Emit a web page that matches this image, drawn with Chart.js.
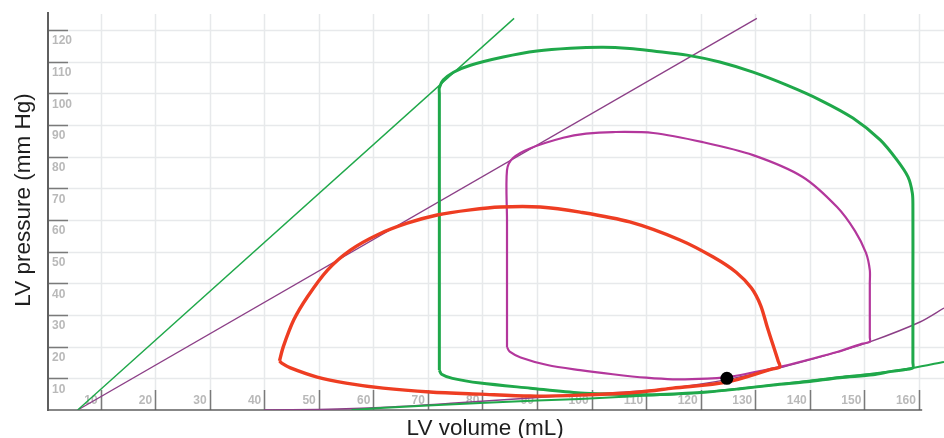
<!DOCTYPE html>
<html>
<head>
<meta charset="utf-8">
<script src="https://cdn.jsdelivr.net/npm/chart.js@4.4.1/dist/chart.umd.min.js"></script>
<style>
  html, body { margin: 0; padding: 0; background: #ffffff; overflow: hidden; }
  #wrap { width: 944px; height: 438px; }
</style>
</head>
<body>
<div id="wrap"><canvas id="c" width="944" height="438"></canvas></div>
<script>
// ---- Tick labels ----
const xTicks = [10, 20, 30, 40, 50, 60, 70, 80, 90, 100, 110, 120, 130, 140, 150, 160];
const yTicks = [10, 20, 30, 40, 50, 60, 70, 80, 90, 100, 110, 120];
const xTitle = 'LV volume (mL)';
const yTitle = 'LV pressure (mm Hg)';

// ---- Series (volume in mL, pressure in mm Hg) ----
// Large green loop
const greenLoopVol = [72.1, 72.1, 72.1, 72.1, 72.1, 72.1, 72.8, 74.7, 77.8, 83.8, 90.0, 96.1, 102.1, 107.0, 111.3, 117.5, 123.5, 129.6, 135.8, 141.9, 147.9, 152.9, 156.0, 158.0, 158.8, 158.9, 158.9, 158.9, 158.9, 157.5, 155.0, 151.6, 145.5, 139.5, 133.3, 127.2, 121.2, 112.6, 108.9, 103.9, 97.9, 88.8, 79.6, 74.5, 72.5, 72.1];
const greenLoopP   = [12.6, 14.5, 40.0, 75.0, 100.0, 101.8, 104.2, 106.7, 108.9, 111.5, 113.4, 114.3, 114.6, 114.2, 113.4, 112.1, 109.9, 106.7, 102.6, 97.9, 92.2, 85.3, 78.9, 73.6, 68.5, 64.0, 40.0, 15.0, 13.3, 12.8, 12.2, 11.1, 10.2, 8.9, 7.9, 6.7, 5.7, 4.9, 4.8, 5.0, 5.4, 6.9, 8.5, 10.0, 11.3, 12.6];

// Purple (magenta) loop
const purpleLoopVol = [84.5, 84.5, 84.5, 84.5, 84.5, 85.6, 88.8, 94.8, 99.0, 103.9, 111.3, 120.4, 129.6, 138.7, 145.0, 148.3, 150.3, 151.0, 151.0, 151.0, 151.0, 149.5, 145.0, 139.5, 134.5, 128.0, 124.8, 121.2, 114.9, 110.0, 103.9, 97.9, 91.9, 87.0, 85.0, 84.5];
const purpleLoopP   = [19.9, 21.5, 40.0, 60.0, 75.8, 79.6, 82.7, 86.0, 87.3, 87.8, 87.5, 84.6, 80.5, 73.6, 64.1, 56.5, 49.6, 44.2, 40.0, 23.0, 21.5, 20.9, 18.3, 15.8, 13.6, 11.3, 10.4, 9.9, 9.7, 10.2, 11.3, 12.6, 14.2, 16.6, 18.4, 19.9];

// Red loop
const redLoopVol = [42.8, 43.5, 45.4, 47.9, 51.6, 55.8, 60.7, 66.2, 71.7, 77.8, 83.3, 90.6, 97.9, 107.0, 116.2, 122.3, 126.5, 129.3, 131.0, 132.2, 133.4, 134.2, 134.5, 133.0, 124.8, 114.9, 108.9, 97.9, 88.8, 79.6, 70.4, 61.8, 55.0, 49.7, 44.8, 43.2, 42.8];
const redLoopP   = [15.5, 20.0, 28.4, 35.7, 44.2, 50.5, 55.3, 59.0, 61.6, 63.2, 64.1, 64.1, 62.5, 59.4, 53.7, 48.3, 43.5, 38.5, 33.0, 26.2, 19.8, 15.5, 13.6, 12.9, 8.8, 6.9, 5.7, 4.7, 4.4, 5.0, 5.7, 6.9, 8.5, 10.4, 13.3, 14.8, 15.5];

// End-systolic pressure-volume lines
const greenEspvrVol = [5.8, 85.8];
const greenEspvrP   = [0, 123.7];
const purpleEspvrVol = [5.8, 130.3];
const purpleEspvrP   = [0, 123.7];

// End-diastolic pressure-volume curves
const greenEdpvrVol = [56.0, 61.3, 70.0, 79.6, 90.0, 97.9, 105.0, 112.6, 121.2, 133.3, 145.5, 151.6, 158.9, 164.6];
const greenEdpvrP   = [0.0, 0.6, 1.4, 2.2, 3.0, 3.5, 4.1, 4.7, 5.7, 7.9, 10.4, 11.5, 13.3, 15.2];
const purpleEdpvrVol = [40.0, 50.0, 61.3, 75.0, 88.8, 98.0, 109.0, 115.0, 124.8, 134.5, 139.5, 145.0, 151.0, 160.2, 164.6];
const purpleEdpvrP   = [0.0, 0.2, 0.8, 2.2, 3.8, 4.8, 6.0, 7.0, 9.6, 13.3, 15.6, 18.3, 21.5, 27.8, 32.2];

// Marker
const markerVol = [124.8];
const markerP = [10.0];

// ---- Build datasets ----
function pts(vx, vy) { return vx.map((v, i) => ({ x: v, y: vy[i] })); }
const GREEN = '#1fa84a', RED = '#ee3d22', MAGENTA = '#b3379c', PURPLE = '#8c3f87';

const datasets = [
  { data: pts(markerVol, markerP), showLine: false, pointRadius: 6.5, pointBackgroundColor: '#000', pointBorderWidth: 0 },
  { data: pts(redLoopVol, redLoopP), showLine: true, borderColor: RED, borderWidth: 3.4, tension: 0.3, pointRadius: 0 },
  { data: pts(greenLoopVol, greenLoopP), showLine: true, borderColor: GREEN, borderWidth: 3, tension: 0.3, pointRadius: 0 },
  { data: pts(purpleLoopVol, purpleLoopP), showLine: true, borderColor: MAGENTA, borderWidth: 2.2, tension: 0.3, pointRadius: 0 },
  { data: pts(greenEdpvrVol, greenEdpvrP), showLine: true, borderColor: GREEN, borderWidth: 2, tension: 0.3, pointRadius: 0 },
  { data: pts(purpleEdpvrVol, purpleEdpvrP), showLine: true, borderColor: PURPLE, borderWidth: 1.4, tension: 0.3, pointRadius: 0 },
  { data: pts(greenEspvrVol, greenEspvrP), showLine: true, borderColor: GREEN, borderWidth: 1.4, tension: 0, pointRadius: 0 },
  { data: pts(purpleEspvrVol, purpleEspvrP), showLine: true, borderColor: PURPLE, borderWidth: 1.3, tension: 0, pointRadius: 0 }
];

const frame = {
  id: 'frame',
  beforeDatasetsDraw(chart) {
    const ctx = chart.ctx, a = chart.chartArea;
    const xs = chart.scales.x, ys = chart.scales.y;
    const axisX = a.left + 2;
    ctx.save();
    // grid
    ctx.strokeStyle = '#e7e9eb';
    ctx.lineWidth = 1.5;
    yTicks.forEach(v => {
      const y = Math.round(ys.getPixelForValue(v)) + 0.5;
      ctx.beginPath(); ctx.moveTo(axisX, y); ctx.lineTo(a.right, y); ctx.stroke();
    });
    xTicks.forEach(v => {
      const x = Math.round(xs.getPixelForValue(v)) + 0.5;
      ctx.beginPath(); ctx.moveTo(x, a.top + 1); ctx.lineTo(x, a.bottom); ctx.stroke();
    });
    // tick labels
    ctx.fillStyle = '#b9b9b9';
    ctx.font = 'bold 12px "Liberation Sans", Arial, sans-serif';
    ctx.textBaseline = 'middle';
    ctx.textAlign = 'left';
    yTicks.forEach(v => {
      const y = ys.getPixelForValue(v);
      ctx.fillText(String(v), axisX + 4, y + 11);
    });
    ctx.textAlign = 'right';
    xTicks.forEach(v => {
      const x = xs.getPixelForValue(v);
      ctx.fillText(String(v), x - 3, a.bottom - 9);
    });
    // tick marks
    ctx.strokeStyle = '#7a7a7a';
    ctx.lineWidth = 1.5;
    yTicks.forEach(v => {
      const y = Math.round(ys.getPixelForValue(v)) + 0.5;
      ctx.beginPath(); ctx.moveTo(axisX, y); ctx.lineTo(axisX + 20, y); ctx.stroke();
    });
    xTicks.forEach(v => {
      const x = Math.round(xs.getPixelForValue(v)) + 0.5;
      ctx.beginPath(); ctx.moveTo(x, a.bottom - 20); ctx.lineTo(x, a.bottom); ctx.stroke();
    });
    // axis lines
    ctx.strokeStyle = '#5f5f5f';
    ctx.lineWidth = 2;
    ctx.beginPath(); ctx.moveTo(axisX, a.top - 1); ctx.lineTo(axisX, a.bottom + 1); ctx.stroke();
    ctx.lineWidth = 1.6;
    ctx.beginPath(); ctx.moveTo(axisX, a.bottom); ctx.lineTo(xs.getPixelForValue(160.6), a.bottom); ctx.stroke();
    // titles
    ctx.fillStyle = '#1e1e1e';
    ctx.textBaseline = 'alphabetic';
    ctx.textAlign = 'center';
    ctx.font = '22.5px "Liberation Sans", Arial, sans-serif';
    ctx.fillText(xTitle, xs.getPixelForValue(80.5), 435);
    ctx.save();
    ctx.translate(30, 200);
    ctx.rotate(-Math.PI / 2);
    ctx.fillText(yTitle, 0, 0);
    ctx.restore();
    ctx.restore();
  }
};

new Chart(document.getElementById('c'), {
  type: 'scatter',
  data: { datasets },
  options: {
    responsive: false,
    animation: false,
    layout: { autoPadding: false, padding: { left: 46, top: 13, right: 0, bottom: 28 } },
    plugins: { legend: { display: false }, tooltip: { enabled: false } },
    scales: {
      x: { type: 'linear', min: 0, max: 164.6, display: false },
      y: { type: 'linear', min: 0, max: 125.4, display: false }
    }
  },
  plugins: [frame]
});
</script>
</body>
</html>
